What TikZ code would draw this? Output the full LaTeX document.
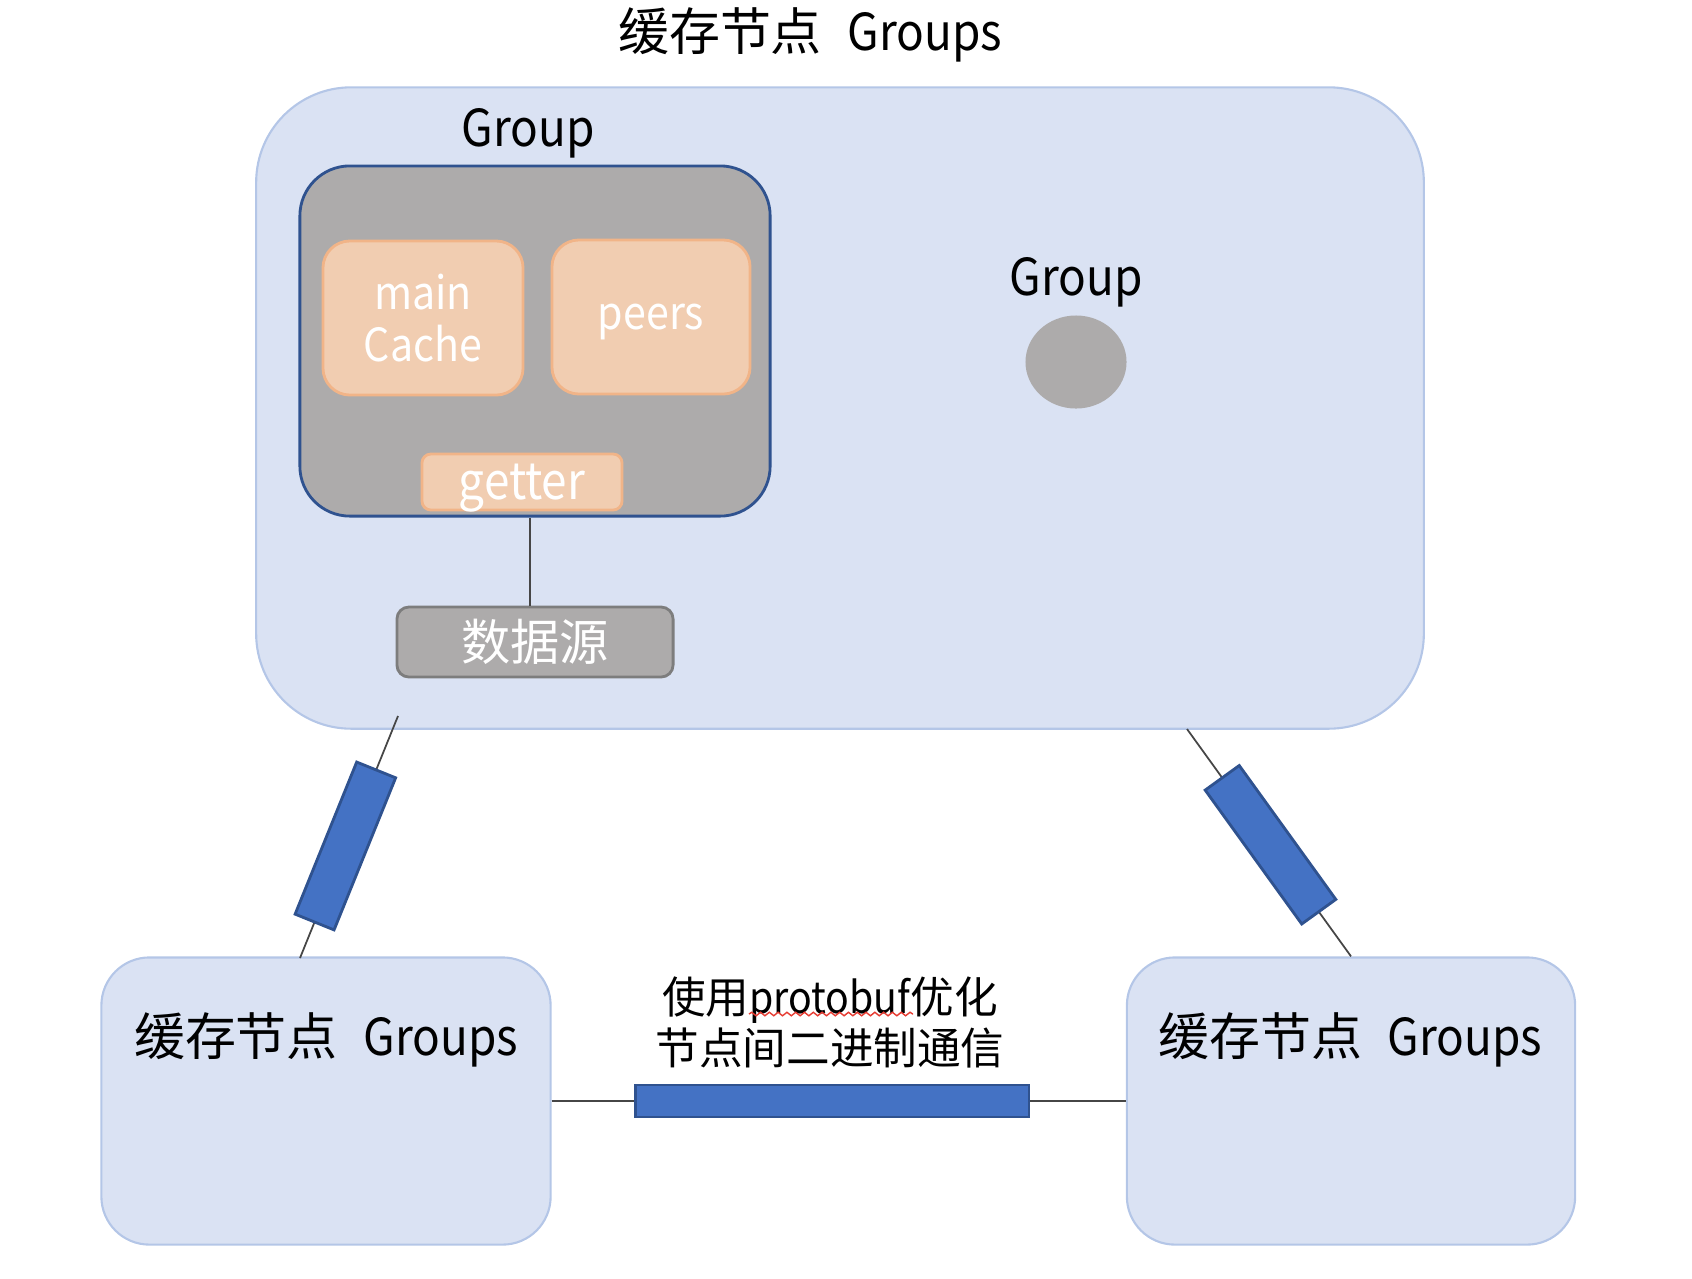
\documentclass[tikz,border=0pt]{standalone}
\usepackage{fontspec}
\setmainfont{Noto Sans CJK SC}
\newfontfamily\lat[FakeStretch=0.9]{Noto Sans CJK SC}
\usetikzlibrary{shapes.geometric,decorations.pathmorphing}
\definecolor{grpfill}{RGB}{218,226,243}
\definecolor{grpline}{RGB}{180,198,231}
\definecolor{gr}{RGB}{173,171,171}
\definecolor{srcline}{RGB}{125,125,125}
\definecolor{navy}{RGB}{47,82,143}
\definecolor{peach}{RGB}{241,205,177}
\definecolor{peachline}{RGB}{241,180,136}
\definecolor{barblue}{RGB}{68,114,196}
\definecolor{wirec}{RGB}{70,70,70}
\definecolor{spell}{RGB}{230,60,50}

\begin{document}
\begin{tikzpicture}[x=0.01cm,y=-0.01cm,
    lbl/.style={font=\fontsize{14.5}{17}\selectfont},
    grpbox/.style={rectangle,draw=grpline,fill=grpfill,line width=0.6pt},
    tile/.style={rectangle,rounded corners=0.27cm,draw=peachline,fill=peach,line width=0.8pt,text=white,align=center,inner sep=0pt,font=\fontsize{13}{15}\selectfont\lat},
    bar/.style={rectangle,draw=navy,fill=barblue,line width=0.8pt,inner sep=0pt},
    wire/.style={draw=wirec,line width=0.5pt},
    squiggle/.style={draw=spell,line width=0.4pt,decorate,decoration={snake,amplitude=0.5pt,segment length=2.5pt}}]
        \useasboundingbox (0,0) rectangle (1692,1278);
        \node[lbl] (title) at (810,35) {缓存节点\hspace{0.5em}{\lat Groups}};
        % upper cache node
        \node[grpbox,rounded corners=0.95cm,minimum width=11.67cm,minimum height=6.41cm] (topgrp) at (840,408) {};
        \node[lbl] (grp1) at (528,133) {\lat Group};
        \node[rectangle,rounded corners=0.5cm,draw=navy,fill=gr,line width=0.8pt,minimum width=4.7cm,minimum height=3.5cm] (inner) at (535,341) {};
        \node[tile,minimum width=2cm,minimum height=1.54cm] (cache) at (423,318) {main\\Cache};
        \node[tile,minimum width=1.98cm,minimum height=1.54cm,text depth=0pt] (peers) at (651,317) {peers};
        \node[tile,rounded corners=0.09cm,minimum width=2cm,minimum height=0.56cm,text depth=0pt,font=\fontsize{14.5}{17}\selectfont\lat] (getter) at (522,482) {getter};
        \node[rectangle,rounded corners=0.12cm,draw=srcline,fill=gr,line width=0.8pt,minimum width=2.76cm,minimum height=0.7cm,text=white,font=\fontsize{14}{17}\selectfont] (src) at (535,642) {数据源};
        \draw[wire] ([xshift=-0.05cm]src.north) -- ([xshift=-0.05cm]src.north |- inner.south);
        \node[lbl] (grp2) at (1076,282) {\lat Group};
        \node[ellipse,fill=gr,inner sep=0pt,minimum width=1.01cm,minimum height=0.93cm] (dot) at (1076,362) {};
        % lower cache nodes
        \node[grpbox,rounded corners=0.48cm,minimum width=4.49cm,minimum height=2.87cm] (left) at (326,1101) {};
        \node[lbl] (lefttxt) at (326,1040) {缓存节点\hspace{0.5em}{\lat Groups}};
        \node[grpbox,rounded corners=0.48cm,minimum width=4.48cm,minimum height=2.87cm] (right) at (1351,1101) {};
        \node[lbl] (righttxt) at (1350,1040) {缓存节点\hspace{0.5em}{\lat Groups}};
        % links
        \coordinate (ltop) at (398,716);
        \coordinate (lbot) at (300,958);
        \coordinate (rtop) at (1187,729);
        \draw[wire] (ltop) -- (lbot) node[bar,sloped,pos=0.537,minimum width=1.64cm,minimum height=0.42cm] (lbar) {};
        \draw[wire] (rtop) -- (right.north) node[bar,sloped,pos=0.509,minimum width=1.65cm,minimum height=0.42cm] (rbar) {};
        \draw[wire] (left.east) -- (right.west) node[bar,pos=0.489,minimum width=3.93cm,minimum height=0.32cm] (hbar) {};
        \node[align=center,font=\fontsize{12.4}{14.5}\selectfont] (proto) at (830,1022) {使用{\lat protobuf}优化\\节点间二进制通信};
        \draw[squiggle] (749,1014) -- (913,1014);
\end{tikzpicture}
\end{document}
